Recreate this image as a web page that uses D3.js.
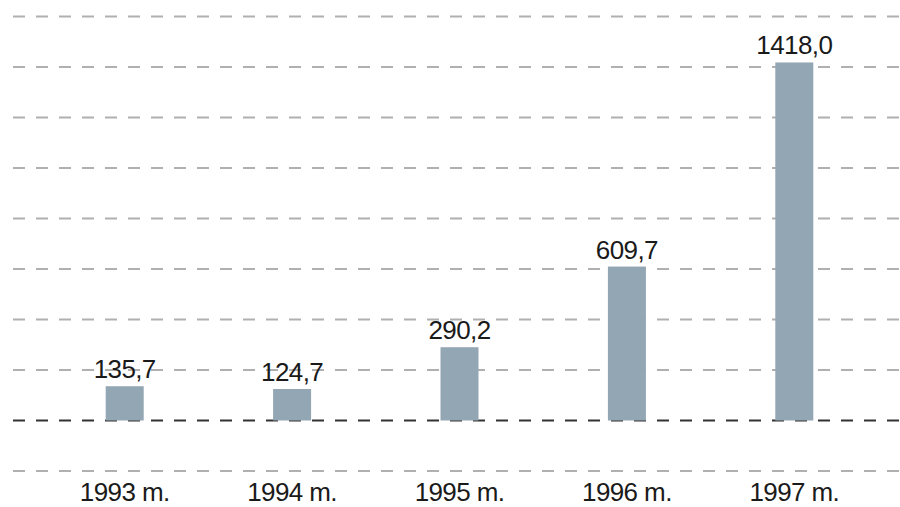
<!DOCTYPE html>
<html>
<head>
<meta charset="utf-8">
<script src="https://cdn.jsdelivr.net/npm/d3@7/dist/d3.min.js"></script>
<style>
  html, body { margin: 0; padding: 0; background: #fff; }
  svg { display: block; }
  text { font-family: "Liberation Sans", Arial, sans-serif; fill: #1a1a1a; }
</style>
</head>
<body>
<svg id="chart" width="900" height="507"></svg>
<script>
const categories = ["1993 m.", "1994 m.", "1995 m.", "1996 m.", "1997 m."];
const values = [135.7, 124.7, 290.2, 609.7, 1418.0];
const valueLabels = ["135,7", "124,7", "290,2", "609,7", "1418,0"];
const gridTicks = [-200, 0, 200, 400, 600, 800, 1000, 1200, 1400, 1600];

const svg = d3.select("#chart");
const W = 900, H = 507;

const x = d3.scaleBand()
  .domain(categories)
  .range([41, 878])
  .paddingInner(0.773)
  .paddingOuter(0.3865);

const y = d3.scaleLinear()
  .domain([-200, 1600])
  .range([471, 16.5]);

// gridlines
svg.append("g").selectAll("line")
  .data(gridTicks)
  .join("line")
  .attr("x1", 13)
  .attr("x2", W)
  .attr("y1", d => y(d))
  .attr("y2", d => y(d))
  .attr("stroke", d => d === 0 ? "#333" : "#b0b0b0")
  .attr("stroke-width", 2)
  .attr("stroke-dasharray", "12,11");

// bars
svg.append("g").selectAll("rect")
  .data(values)
  .join("rect")
  .attr("x", (d, i) => x(categories[i]))
  .attr("width", x.bandwidth())
  .attr("y", d => y(d))
  .attr("height", d => y(0) - y(d))
  .attr("fill", "#93a6b4");

// value labels
svg.append("g").selectAll("text")
  .data(values)
  .join("text")
  .attr("x", (d, i) => x(categories[i]) + x.bandwidth() / 2)
  .attr("y", d => y(d) - 8)
  .attr("text-anchor", "middle")
  .attr("font-size", 26)
  .attr("letter-spacing", -0.6)
  .text((d, i) => valueLabels[i]);

// category labels
svg.append("g").selectAll("text")
  .data(categories)
  .join("text")
  .attr("x", d => x(d) + x.bandwidth() / 2)
  .attr("y", 501)
  .attr("text-anchor", "middle")
  .attr("font-size", 26)
  .attr("letter-spacing", -0.6)
  .text(d => d);
</script>
</body>
</html>
